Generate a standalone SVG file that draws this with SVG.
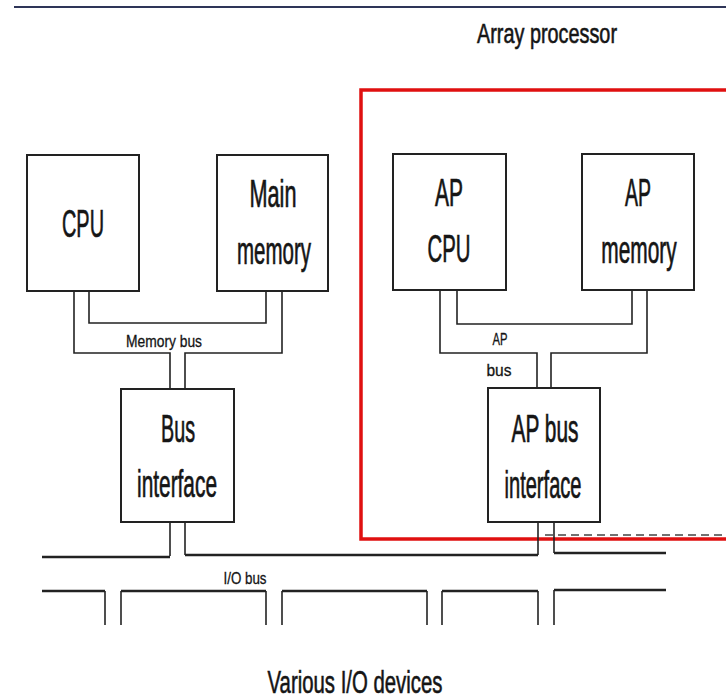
<svg xmlns="http://www.w3.org/2000/svg" width="726" height="700" viewBox="0 0 726 700">
<style>
.bg{fill:#ffffff}
.box{fill:#ffffff;stroke:#222;stroke-width:2}
.w{fill:none;stroke:#222;stroke-width:1.6}
.bus{fill:none;stroke:#222;stroke-width:2.6}
.t{font-family:"Liberation Sans",Arial,sans-serif;fill:#151515;text-anchor:middle;stroke:#151515}
.big{font-size:38px;stroke-width:0.7}
.sm{font-size:16px;stroke-width:0.3}
</style>
<rect class="bg" x="0" y="0" width="726" height="700"/>
<line x1="14" y1="7" x2="726" y2="7" stroke="#2e3558" stroke-width="2"/>
<text class="t" x="547" y="43" font-size="28" stroke-width="0.6" textLength="140" lengthAdjust="spacingAndGlyphs">Array processor</text>
<g id="ap-frame">
<rect x="361" y="90" width="380" height="449" fill="none" stroke="#e01010" stroke-width="3.5"/>
<line x1="545" y1="535" x2="726" y2="535" stroke="#444" stroke-width="1.3" stroke-dasharray="8 5"/>
</g>
<g id="connectors">
<path class="w" d="M74,291 V353 H170 V389"/>
<path class="w" d="M282,291 V353 H185 V389"/>
<path class="w" d="M89,291 V323 H266 V291"/>
<path class="w" d="M440,290 V353 H537 V388"/>
<path class="w" d="M647,290 V353 H551 V388"/>
<path class="w" d="M457,290 V324 H632 V290"/>
<path class="w" d="M170,522 V556"/>
<path class="w" d="M185,522 V555"/>
<path class="w" d="M538,522 V555"/>
<path class="w" d="M554,522 V553"/>
<path class="bus" d="M42,557 H170"/>
<path class="bus" d="M185,555 H538"/>
<path class="bus" d="M554,553 H666"/>
<path class="w" d="M105,625 V591"/>
<path class="w" d="M121,625 V591"/>
<path class="w" d="M266,625 V591"/>
<path class="w" d="M282,625 V591"/>
<path class="w" d="M427,625 V591"/>
<path class="w" d="M442,625 V591"/>
<path class="w" d="M538,625 V591"/>
<path class="w" d="M554,625 V590"/>
<path class="bus" d="M42,591 H105 M121,591 H266 M282,591 H427 M442,591 H538 M554,590 H666"/>
<text class="t sm" x="164" y="347" textLength="76" lengthAdjust="spacingAndGlyphs">Memory bus</text>
<text class="t sm" x="500" y="345" textLength="15" lengthAdjust="spacingAndGlyphs">AP</text>
<text class="t sm" x="499" y="376" textLength="25" lengthAdjust="spacingAndGlyphs">bus</text>
<text class="t sm" x="245" y="584" textLength="43" lengthAdjust="spacingAndGlyphs">I/O bus</text>
</g>
<g id="cpu">
<rect class="box" x="27" y="155" width="112" height="136"/>
<text class="t big" x="83" y="237" textLength="42" lengthAdjust="spacingAndGlyphs">CPU</text>
</g>
<g id="main-memory">
<rect class="box" x="217" y="155" width="111" height="136"/>
<text class="t big" x="273" y="207" textLength="47" lengthAdjust="spacingAndGlyphs">Main</text>
<text class="t big" transform="translate(274,264) scale(0.54,1)" x="0" y="0">memory</text>
</g>
<g id="ap-cpu">
<rect class="box" x="393" y="154" width="113" height="136"/>
<text class="t big" x="449" y="206" textLength="28" lengthAdjust="spacingAndGlyphs">AP</text>
<text class="t big" x="449" y="262" textLength="43" lengthAdjust="spacingAndGlyphs">CPU</text>
</g>
<g id="ap-memory">
<rect class="box" x="582" y="154" width="112" height="136"/>
<text class="t big" x="638" y="206" textLength="26" lengthAdjust="spacingAndGlyphs">AP</text>
<text class="t big" transform="translate(639,263) scale(0.55,1)" x="0" y="0">memory</text>
</g>
<g id="bus-interface">
<rect class="box" x="121" y="389" width="113" height="133"/>
<text class="t big" x="178" y="442" textLength="34" lengthAdjust="spacingAndGlyphs">Bus</text>
<text class="t big" x="177" y="497" textLength="80" lengthAdjust="spacingAndGlyphs">interface</text>
</g>
<g id="ap-bus-interface">
<rect class="box" x="488" y="388" width="112" height="134"/>
<text class="t big" x="545" y="442" textLength="67" lengthAdjust="spacingAndGlyphs">AP bus</text>
<text class="t big" x="543" y="498" textLength="77" lengthAdjust="spacingAndGlyphs">interface</text>
</g>
<text class="t" x="355" y="693" font-size="32" stroke-width="0.6" textLength="175" lengthAdjust="spacingAndGlyphs">Various I/O devices</text>
</svg>
